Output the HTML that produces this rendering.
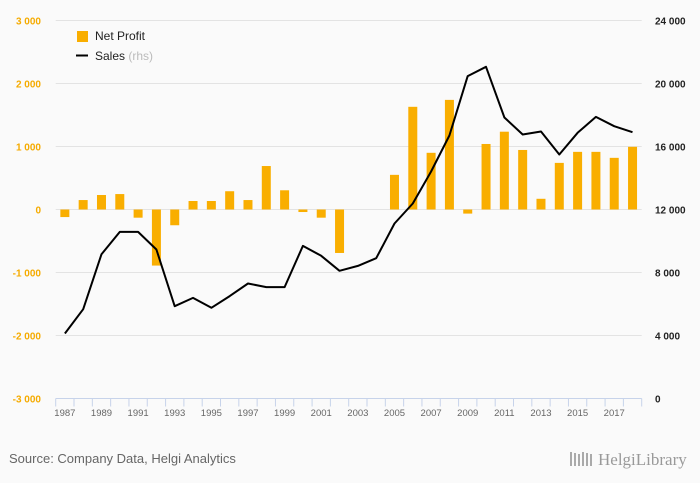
<!DOCTYPE html>
<html><head><meta charset="utf-8">
<style>
body{margin:0;background:#fafafa;font-family:"Liberation Sans","DejaVu Sans",sans-serif;}
#c{position:relative;width:700px;height:483px;background:#fafafa;overflow:hidden;}
</style></head>
<body>
<div id="c">
<svg id="svg" width="700" height="483" xmlns="http://www.w3.org/2000/svg"></svg>
</div>
<script>
const years=[1987,1988,1989,1990,1991,1992,1993,1994,1995,1996,1997,1998,1999,2000,2001,2002,2003,2004,2005,2006,2007,2008,2009,2010,2011,2012,2013,2014,2015,2016,2017,2018];
const netProfit=[-120,150,230,245,-130,-890,-250,135,135,290,150,690,305,-40,-130,-690,0,0,550,1630,900,1740,-65,1040,1235,945,170,740,915,915,820,995];
const sales=[4130,5670,9160,10580,10580,9460,5860,6390,5760,6500,7300,7070,7070,9690,9060,8110,8420,8910,11110,12380,14410,16700,20470,21060,17840,16760,16950,15490,16870,17880,17290,16910];
const leftTicks=[-3000,-2000,-1000,0,1000,2000,3000];
const rightTicks=[0,4000,8000,12000,16000,20000,24000];
const xLabels=[1987,1989,1991,1993,1995,1997,1999,2001,2003,2005,2007,2009,2011,2013,2015,2017];

const svg=document.getElementById('svg');
const NS='http://www.w3.org/2000/svg';
const L=55.7,R=641.7,TOP=20.5,BOT=398.5;
const slot=(R-L)/years.length;
function x(i){return L+slot*(i+0.5);}
function yL(v){return TOP+(3000-v)/6000*(BOT-TOP);}
function yR(v){return TOP+(24000-v)/24000*(BOT-TOP);}
function fmt(v){const s=Math.abs(v).toString().replace(/\B(?=(\d{3})+(?!\d))/g,'\u2009');return (v<0?'-':'')+s.replace(/\u2009/g,' ');}
function el(t,a,txt){const e=document.createElementNS(NS,t);for(const k in a)e.setAttribute(k,a[k]);if(txt!==undefined)e.textContent=txt;svg.appendChild(e);return e;}

leftTicks.forEach((v,i)=>{
  if(v!==-3000){
    const g=el('line',{x1:L,x2:R,y1:yL(v),y2:yL(v),stroke:'#e3e3e3','stroke-width':1});
    
    
  }
  const t=el('text',{x:41,y:yL(v)+4,'text-anchor':'end','font-size':'10','font-weight':'bold',fill:'#f5ab00'},fmt(v));
  
  
});
rightTicks.forEach(v=>{
  const t=el('text',{x:655,y:yR(v)+4,'font-size':'10','font-weight':'bold',fill:'#222'},fmt(v));
  
  
});
const ax=el('line',{x1:L,x2:R,y1:BOT,y2:BOT,stroke:'#c7d3ea','stroke-width':1});


for(let i=0;i<=years.length;i++){
  const tk=el('line',{x1:L+slot*i,x2:L+slot*i,y1:BOT,y2:BOT+8,stroke:'#c7d3ea','stroke-width':1});
  
  
}
xLabels.forEach(yr=>{
  const i=years.indexOf(yr);
  const t=el('text',{x:x(i),y:416,'text-anchor':'middle','font-size':'9.5',fill:'#666'},yr);
  
  
});
netProfit.forEach((v,i)=>{
  if(v===0)return;
  const y0=yL(0),y1=yL(v);
  const b=el('rect',{x:x(i)-4.5,y:Math.min(y0,y1),width:9,height:Math.abs(y1-y0),fill:'#f9ae00'});
  
  
});
const pts=sales.map((v,i)=>x(i).toFixed(1)+','+yR(v).toFixed(1)).join(' ');
const ln=el('polyline',{points:pts,fill:'none',stroke:'#000','stroke-width':2,'stroke-linejoin':'round'});



const lg1=el('rect',{x:77,y:31,width:11,height:11,fill:'#f9ae00'});


const lt1=el('text',{x:95,y:40,'font-size':'12',fill:'#222'},'Net Profit');


const lg2=el('line',{x1:76,x2:88,y1:55.5,y2:55.5,stroke:'#000','stroke-width':2});


const lt2=el('text',{x:95,y:60,'font-size':'12',fill:'#222'});
lt2.innerHTML='Sales <tspan fill="#bbb">(rhs)</tspan>';



const src=el('text',{x:9,y:463,'font-size':'13',fill:'#666'},'Source: Company Data, Helgi Analytics');


const logo=el('text',{x:598,y:465,'font-size':'17','font-family':'Liberation Serif,serif',fill:'#999'},'HelgiLibrary');


for(let k=0;k<6;k++){
  const r=el('rect',{x:570+k*4,y:452+(k%3),width:2,height:14-(k%3),fill:'#aaa'});
  
  
}
</script>
</body></html>
